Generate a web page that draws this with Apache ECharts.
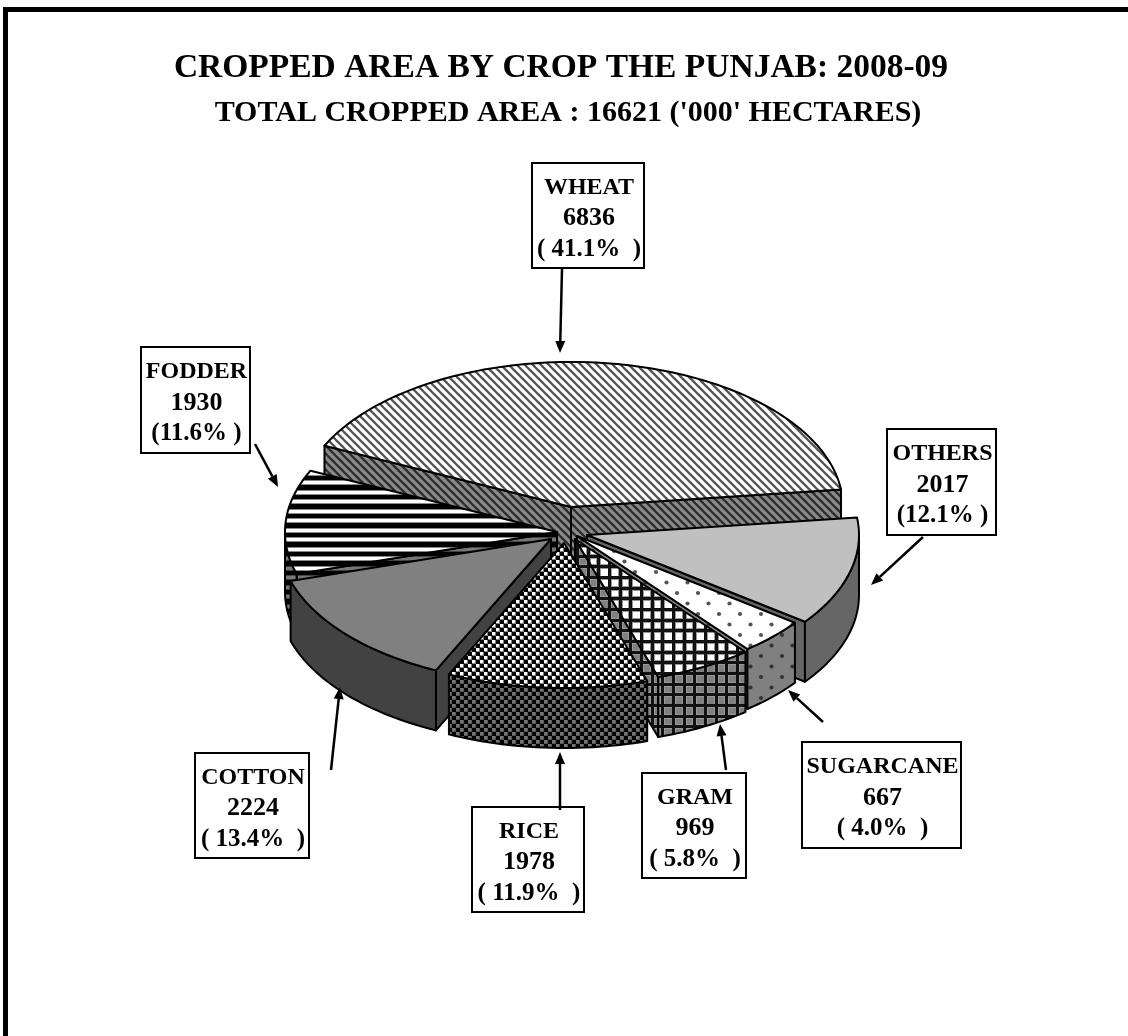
<!DOCTYPE html>
<html>
<head>
<meta charset="utf-8">
<title>Cropped area by crop</title>
<style>
html, body { margin: 0; padding: 0; background: #fff; }
#chart { width: 1128px; height: 1036px; }
</style>
<script src="https://cdn.jsdelivr.net/npm/echarts@6/dist/echarts.min.js"></script>
</head>
<body>
<div id="chart"></div>
<script>
// clockwise from the wheat slice
var cropNames = ["WHEAT", "OTHERS", "SUGARCANE", "GRAM", "RICE", "COTTON", "FODDER"];
var cropValues = [6836, 2017, 667, 969, 1978, 2224, 1930];
var cropPercents = ["( 41.1%  )", "(12.1% )", "( 4.0%  )", "( 5.8%  )", "( 11.9%  )", "( 13.4%  )", "(11.6% )"];

var chartTitle = "CROPPED AREA BY CROP THE PUNJAB: 2008-09";
var chartSubtitle = "TOTAL CROPPED AREA : 16621 ('000' HECTARES)";

// layout, same order as cropNames
var sliceApex = [[571, 507], [587, 535], [577, 536], [575, 539], [564, 543], [551, 539], [557, 532]];
var labelBoxes = [[532, 163, 112, 105], [887, 429, 109, 106], [802, 742, 159, 106], [642, 773, 104, 105], [472, 807, 112, 105], [195, 753, 114, 105], [141, 347, 109, 106]];
var labelArrows = [[562, 269, 560, 353], [923, 537, 871, 585], [823, 722, 788, 690], [726, 770, 720, 724], [560, 810, 560, 752], [331, 770, 340, 687], [255, 444, 278, 487]];
var paintOrder = [0, 6, 1, 2, 3, 5, 4];

var radiusX = 272, radiusY = 145, depth = 60;
var startAngle = 155;

function tile(w, h, draw) {
    var c = document.createElement("canvas");
    c.width = w;
    c.height = h;
    draw(c.getContext("2d"));
    return { image: c, repeat: "repeat" };
}
function diagonal(bg, fg) {
    return tile(8, 8, function (g) {
        g.fillStyle = bg;
        g.fillRect(0, 0, 8, 8);
        g.strokeStyle = fg;
        g.lineWidth = 2.3;
        [-8, 0, 8].forEach(function (o) {
            g.beginPath();
            g.moveTo(o - 1, -1);
            g.lineTo(o + 9, 9);
            g.stroke();
        });
    });
}
function checker(light, mid) {
    return tile(8, 8, function (g) {
        g.fillStyle = mid;
        g.fillRect(0, 0, 8, 8);
        g.fillStyle = "#000";
        g.fillRect(0, 0, 4, 4);
        g.fillRect(4, 4, 4, 4);
        g.fillStyle = light;
        g.fillRect(4, 0, 3, 3);
        g.fillRect(0, 4, 3, 3);
    });
}
function grid(bg, line) {
    return tile(32, 32, function (g) {
        g.fillStyle = bg;
        g.fillRect(0, 0, 32, 32);
        g.fillStyle = "#999";
        for (var i = 0; i < 3; i++) {
            var p = Math.round(i * 32 / 3);
            g.fillRect(p - 1, 0, 5, 32);
            g.fillRect(0, p - 1, 32, 5);
        }
        g.fillStyle = line;
        for (var j = 0; j < 3; j++) {
            var q = Math.round(j * 32 / 3);
            g.fillRect(q, 0, 3, 32);
            g.fillRect(0, q, 32, 3);
        }
    });
}
function dots(bg, dot) {
    return tile(21, 21, function (g) {
        g.fillStyle = bg;
        g.fillRect(0, 0, 21, 21);
        g.fillStyle = dot;
        [[5, 5], [15.5, 15.5]].forEach(function (p) {
            g.beginPath();
            g.arc(p[0], p[1], 2.1, 0, Math.PI * 2);
            g.fill();
        });
    });
}
function stripes(bg, mid) {
    return tile(4, 19, function (g) {
        g.fillStyle = bg;
        g.fillRect(0, 0, 4, 19);
        g.fillStyle = mid;
        g.fillRect(0, 0, 4, 6);
        g.fillRect(0, 9, 4, 7);
        g.fillStyle = "#000";
        g.fillRect(0, 1, 4, 4);
        g.fillRect(0, 10, 4, 5);
    });
}

var sliceTops = [
    diagonal("#fff", "#555"), "#c0c0c0", dots("#fff", "#555"),
    grid("#fff", "#111"), checker("#fff", "#808080"), "#808080", stripes("#fff", "#888")
];
var sliceWalls = [
    diagonal("#8a8a8a", "#2e2e2e"), "#666666", dots("#808080", "#333"),
    grid("#808080", "#111"), checker("#777", "#555"), "#424242", stripes("#777", "#444")
];

// start and end of each slice, in degrees round the ellipse
var sliceAngles = [];
var total = cropValues.reduce(function (a, b) { return a + b; }, 0);
var cursor = startAngle;
cropValues.forEach(function (v) {
    var sweep = v / total * 360;
    sliceAngles.push([cursor, cursor - sweep]);
    cursor -= sweep;
});

function rimPoint(apex, deg, drop) {
    var t = deg * Math.PI / 180;
    return [apex[0] + radiusX * Math.cos(t), apex[1] - radiusY * Math.sin(t) + drop];
}
function arcPoints(apex, from, to, drop) {
    var pts = [];
    var n = Math.max(2, Math.ceil(Math.abs(from - to) / 1.5));
    for (var i = 0; i <= n; i++) {
        pts.push(rimPoint(apex, from + (to - from) * i / n, drop));
    }
    return pts;
}
function face(points, fill) {
    return {
        type: "polygon",
        shape: { points: points },
        style: { fill: fill, stroke: "#000", lineWidth: 2, lineJoin: "round" }
    };
}
function radialWall(apex, deg, fill) {
    return face([apex, rimPoint(apex, deg, 0), rimPoint(apex, deg, depth), [apex[0], apex[1] + depth]], fill);
}
function cosDeg(deg) {
    return Math.cos(deg * Math.PI / 180);
}

function renderSlice(params, api) {
    var k = api.value(0);
    var apex = sliceApex[k];
    var a = sliceAngles[k];
    var children = [];
    // a cut face shows only when it turns towards the viewer
    if (cosDeg(a[0]) < 0) {
        children.push(radialWall(apex, a[0], sliceWalls[k]));
    }
    if (cosDeg(a[1]) > 0) {
        children.push(radialWall(apex, a[1], sliceWalls[k]));
    }
    // same for the rim, near side of the ellipse only
    var from = Math.min(a[0], 0);
    var to = Math.max(a[1], -180);
    if (from > to) {
        var upper = arcPoints(apex, from, to, 0);
        var lower = arcPoints(apex, to, from, depth);
        children.push(face(upper.concat(lower), sliceWalls[k]));
    }
    children.push(face([apex].concat(arcPoints(apex, a[0], a[1], 0)), sliceTops[k]));
    return { type: "group", children: children };
}

function labelElements() {
    var els = [];
    cropNames.forEach(function (name, i) {
        var b = labelBoxes[i], r = labelArrows[i];
        els.push({
            type: "rect",
            shape: { x: b[0], y: b[1], width: b[2], height: b[3] },
            style: { fill: "#fff", stroke: "#000", lineWidth: 2 },
            z: 20
        });
        els.push({
            type: "text",
            x: b[0] + b[2] / 2 + 1,
            y: b[1] + b[3] / 2 + 3,
            style: {
                text: "{n|" + name + "}\n{v|" + cropValues[i] + "}\n{p|" + cropPercents[i] + "}",
                align: "center",
                verticalAlign: "middle",
                fill: "#000",
                rich: {
                    n: { font: "bold 24px 'Liberation Serif'", lineHeight: 31 },
                    v: { font: "bold 26px 'Liberation Serif'", lineHeight: 31 },
                    p: { font: "bold 25px 'Liberation Serif'", lineHeight: 31 }
                }
            },
            z: 21
        });
        var ang = Math.atan2(r[3] - r[1], r[2] - r[0]);
        var bx = r[2] - 12 * Math.cos(ang), by = r[3] - 12 * Math.sin(ang);
        els.push({
            type: "line",
            shape: { x1: r[0], y1: r[1], x2: bx, y2: by },
            style: { stroke: "#000", lineWidth: 2.5 },
            z: 22
        });
        els.push({
            type: "polygon",
            shape: {
                points: [
                    [r[2], r[3]],
                    [bx - 5 * Math.sin(ang), by + 5 * Math.cos(ang)],
                    [bx + 5 * Math.sin(ang), by - 5 * Math.cos(ang)]
                ]
            },
            style: { fill: "#000" },
            z: 22
        });
    });
    // frame: top and left only
    els.push({ type: "rect", shape: { x: 3, y: 7, width: 1125, height: 5 }, style: { fill: "#000" }, z: 1 });
    els.push({ type: "rect", shape: { x: 3, y: 7, width: 5, height: 1029 }, style: { fill: "#000" }, z: 1 });
    return els;
}

var chart = echarts.init(document.getElementById("chart"), null, { renderer: "canvas" });
chart.setOption({
    animation: false,
    backgroundColor: "#fff",
    title: [
        {
            text: chartTitle,
            left: 556,
            top: 46,
            textAlign: "center",
            textStyle: { fontFamily: "Liberation Serif", fontWeight: "bold", fontSize: 33.5, color: "#000" }
        },
        {
            text: chartSubtitle,
            left: 563,
            top: 93,
            textAlign: "center",
            textStyle: { fontFamily: "Liberation Serif", fontWeight: "bold", fontSize: 30, color: "#000" }
        }
    ],
    graphic: labelElements(),
    series: [
        {
            type: "custom",
            coordinateSystem: "none",
            silent: true,
            renderItem: renderSlice,
            data: paintOrder.map(function (k) { return [k, cropValues[k]]; })
        }
    ]
});
</script>
</body>
</html>
